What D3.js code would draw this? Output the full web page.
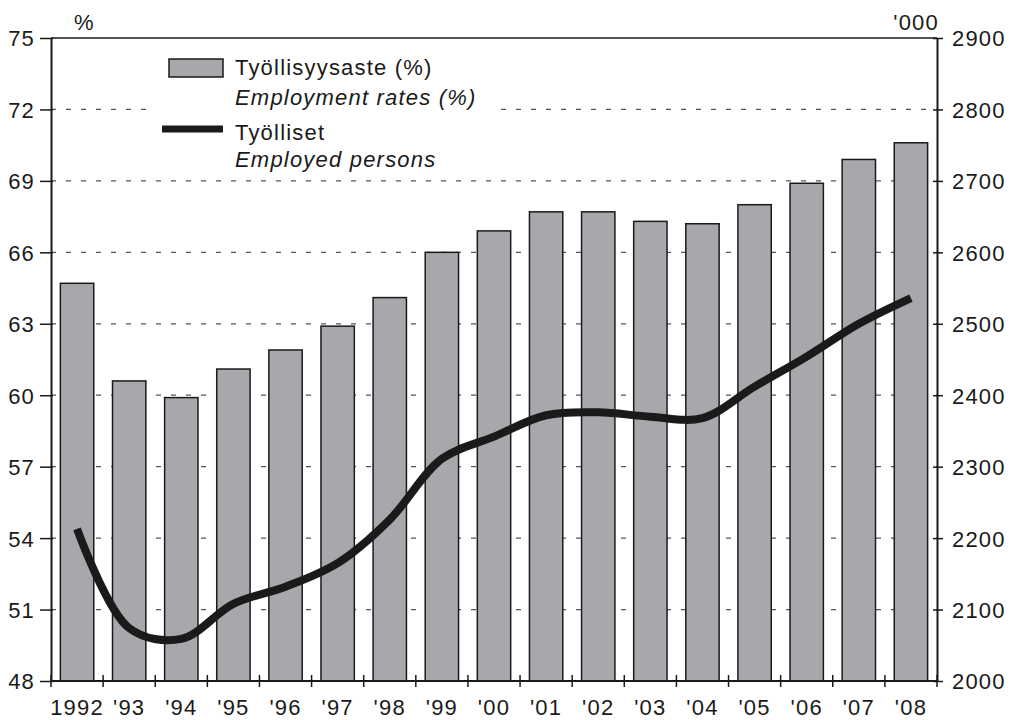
<!DOCTYPE html>
<html>
<head>
<meta charset="utf-8">
<script src="https://cdn.jsdelivr.net/npm/d3@7"></script>
<style>
  body{margin:0;background:#fff;}
  svg text{font-family:"Liberation Sans",Arial,Helvetica,sans-serif;font-size:22px;fill:#1a1a1a;letter-spacing:1.2px;}
</style>
</head>
<body>
<svg id="chart" width="1011" height="720"></svg>
<script>
// years on the x axis
const years=["1992","'93","'94","'95","'96","'97","'98","'99","'00","'01","'02","'03","'04","'05","'06","'07","'08"];
// employment rate, % (bars, left axis)
const rates=[64.7,60.6,59.9,61.1,61.9,62.9,64.1,66.0,66.9,67.7,67.7,67.3,67.2,68.0,68.9,69.9,70.6];
// employed persons, thousands (line, right axis)
const employed=[2213,2074,2059,2108,2132,2165,2226,2311,2342,2372,2376,2370,2368,2412,2454,2500,2536];
const leftTicks=[48,51,54,57,60,63,66,69,72,75];
const rightTicks=[2000,2100,2200,2300,2400,2500,2600,2700,2800,2900];

const W=1011,H=720,m={top:38,right:74,bottom:39,left:51};
const iw=W-m.left-m.right, ih=H-m.top-m.bottom;
const svg=d3.select("#chart");
const g=svg.append("g").attr("transform",`translate(${m.left},${m.top})`);

const x=d3.scaleBand().domain(years).range([0,iw]).paddingInner(0.36).paddingOuter(0.18);
const xb=d3.scaleLinear().domain([0,years.length]).range([0,iw]); // band boundaries for ticks
const yL=d3.scaleLinear().domain([48,75]).range([ih,0]);
const yR=d3.scaleLinear().domain([2000,2900]).range([ih,0]);

// dashed grid
g.append("g").selectAll("line").data(leftTicks.filter(v=>v>48&&v<75)).join("line")
  .attr("x1",0).attr("x2",iw).attr("y1",d=>yL(d)).attr("y2",d=>yL(d))
  .attr("stroke","#555").attr("stroke-width",1.2).attr("stroke-dasharray","5,10");
// top border
g.append("line").attr("x1",0).attr("x2",iw).attr("y1",0).attr("y2",0).attr("stroke","#1a1a1a").attr("stroke-width",1.5);

// legend background (hides grid under it)
g.append("rect").attr("x",104).attr("y",8).attr("width",340).attr("height",126).attr("fill","#fff");

// bars
g.append("g").selectAll("rect").data(rates).join("rect")
  .attr("x",(d,i)=>x(years[i])).attr("width",x.bandwidth())
  .attr("y",d=>yL(d)).attr("height",d=>ih-yL(d))
  .attr("fill","#a7a8ab").attr("stroke","#1a1a1a").attr("stroke-width",1.5);

// line
const line=d3.line().x((d,i)=>x(years[i])+x.bandwidth()/2).y(d=>yR(d)).curve(d3.curveCatmullRom.alpha(0.5));
g.append("path").datum(employed).attr("d",line).attr("fill","none").attr("stroke","#1a1a1a").attr("stroke-width",8);

// left axis
const axL=g.append("g").call(d3.axisLeft(yL).tickValues(leftTicks).tickSize(11).tickPadding(5).tickSizeOuter(0));
axL.select(".domain").attr("stroke","#1a1a1a").attr("stroke-width",2);
axL.selectAll(".tick line").attr("stroke","#1a1a1a").attr("stroke-width",1.5).attr("x2",-11).attr("x1",2);
axL.selectAll("text").attr("font-size",null).attr("font-family",null).attr("dy","0.36em");

// right axis
const axR=g.append("g").attr("transform",`translate(${iw},0)`)
  .call(d3.axisRight(yR).tickValues(rightTicks).tickFormat(d3.format("d")).tickSize(6).tickPadding(9).tickSizeOuter(0));
axR.select(".domain").attr("stroke","#1a1a1a").attr("stroke-width",2);
axR.selectAll(".tick line").attr("stroke","#1a1a1a").attr("stroke-width",1.5).attr("x1",-4);
axR.selectAll("text").attr("font-size",null).attr("font-family",null).attr("dy","0.36em");

// bottom axis: ticks on band boundaries, labels at centers
g.append("line").attr("x1",0).attr("x2",iw).attr("y1",ih).attr("y2",ih).attr("stroke","#1a1a1a").attr("stroke-width",2);
g.append("g").selectAll("line").data(d3.range(years.length+1)).join("line")
  .attr("x1",d=>xb(d)).attr("x2",d=>xb(d)).attr("y1",ih-6).attr("y2",ih+6)
  .attr("stroke","#1a1a1a").attr("stroke-width",1.5);
g.append("g").selectAll("text").data(years).join("text")
  .attr("x",d=>x(d)+x.bandwidth()/2).attr("y",ih+34).attr("text-anchor","middle").text(d=>d);

// unit labels
g.append("text").attr("x",23).attr("y",-8).text("%");
g.append("text").attr("x",iw+2).attr("y",-8).attr("text-anchor","end").text("'000");

// legend
const lg=g.append("g");
lg.append("rect").attr("x",118).attr("y",21).attr("width",54).attr("height",18)
  .attr("fill","#a7a8ab").attr("stroke","#1a1a1a").attr("stroke-width",1.5);
lg.append("line").attr("x1",111).attr("x2",172).attr("y1",91).attr("y2",91).attr("stroke","#1a1a1a").attr("stroke-width",7);
lg.append("text").attr("x",184).attr("y",37).text("Työllisyysaste (%)");
lg.append("text").attr("x",184).attr("y",67).attr("font-style","italic").text("Employment rates (%)");
lg.append("text").attr("x",184).attr("y",102).text("Työlliset");
lg.append("text").attr("x",184).attr("y",129).attr("font-style","italic").text("Employed persons");
</script>
</body>
</html>
